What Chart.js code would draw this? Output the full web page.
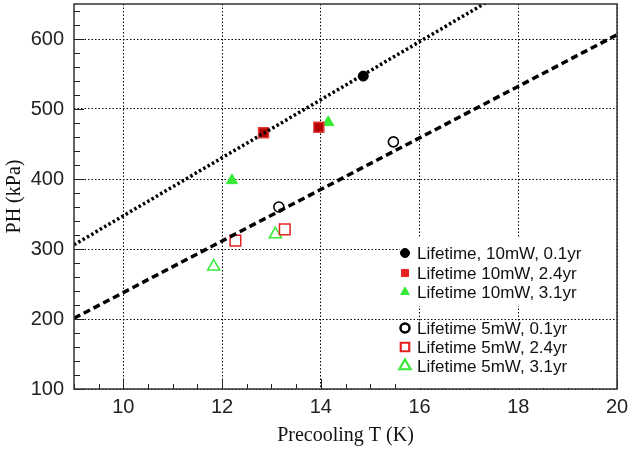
<!DOCTYPE html>
<html>
<head>
<meta charset="utf-8">
<script src="https://cdn.jsdelivr.net/npm/chart.js@4.4.1/dist/chart.umd.min.js"></script>
<style>
  html, body { margin: 0; padding: 0; background: #fff; }
  #wrap { width: 628px; height: 450px; }
</style>
</head>
<body>
<div id="wrap"><canvas id="phChart" width="628" height="450"></canvas></div>
<script>
// values
const t10_01 = [14.86], p10_01 = [547];
const t10_24 = [12.84, 13.96], p10_24 = [466, 474];
const t10_31 = [12.2, 14.15], p10_31 = [398, 481];
const t5_01 = [13.15, 15.47], p5_01 = [360, 453];
const t5_24 = [12.27, 13.27], p5_24 = [312, 328];
const t5_31 = [11.83, 13.08], p5_31 = [275, 321];

// linear fits (10mW dotted, 5mW dashed)
const fitT = [9, 20];
const fit10 = [306, 762];
const fit5 = [201, 606];

const legendTop = ["Lifetime, 10mW, 0.1yr", "Lifetime 10mW, 2.4yr", "Lifetime 10mW, 3.1yr"];
const legendBottom = ["Lifetime 5mW, 0.1yr", "Lifetime 5mW, 2.4yr", "Lifetime 5mW, 3.1yr"];

const pts = (xs, ys) => xs.map((x, i) => ({ x: x, y: ys[i] }));

const GREEN = '#36ea36';
const RED = '#e52222';

// frame + inward ticks, like the original plot
const framePlugin = {
    id: 'frame',
    afterDraw(chart) {
        const { ctx, chartArea: a, scales } = chart;
        ctx.save();
        ctx.strokeStyle = '#222';
        ctx.lineWidth = 1;
        ctx.beginPath();
        const xs = scales.x, ys = scales.y;
        for (let v = xs.min; v <= xs.max + 1e-6; v += 0.5) {
            const px = Math.round(xs.getPixelForValue(v)) + 0.5;
            const len = (Math.abs(v % 2) < 1e-6) ? 10 : 5;
            ctx.moveTo(px, a.bottom);
            ctx.lineTo(px, a.bottom - len);
        }
        for (let v = ys.min; v <= ys.max + 1e-6; v += 20) {
            const py = Math.round(ys.getPixelForValue(v)) + 0.5;
            const len = (Math.abs(v % 100) < 1e-6) ? 10 : 6;
            ctx.moveTo(a.left, py);
            ctx.lineTo(a.left + len, py);
        }
        ctx.stroke();
        ctx.lineWidth = 1.5;
        ctx.strokeStyle = '#333';
        ctx.strokeRect(a.left, a.top, a.right - a.left, a.bottom - a.top);
        ctx.restore();
    }
};

// two grouped legends with white boxes
const legendPlugin = {
    id: 'groupLegend',
    afterDraw(chart) {
        const ctx = chart.ctx;
        ctx.save();
        ctx.fillStyle = '#fff';
        ctx.fillRect(400, 237, 216, 69);
        ctx.fillRect(400, 322, 216, 66);
        ctx.font = '17px "Liberation Sans", Arial, sans-serif';
        ctx.textBaseline = 'middle';
        ctx.fillStyle = '#111';

        const topMarks = [
            { style: 'circle', r: 4.5, fill: '#000', stroke: '#000', w: 1 },
            { style: 'rect', r: 5, fill: RED, stroke: RED, w: 1 },
            { style: 'triangle', r: 5, fill: GREEN, stroke: GREEN, w: 1 }
        ];
        const botMarks = [
            { style: 'circle', r: 4.5, fill: 'rgba(0,0,0,0)', stroke: '#000', w: 2.5 },
            { style: 'rect', r: 6, fill: 'rgba(0,0,0,0)', stroke: RED, w: 2.2 },
            { style: 'triangle', r: 6.5, fill: 'rgba(0,0,0,0)', stroke: GREEN, w: 2.2 }
        ];
        const rowsTop = [253, 273, 292];
        const rowsBot = [328, 347, 366];
        const draw = (labels, marks, rows) => {
            labels.forEach((lab, i) => {
                const m = marks[i];
                ctx.fillStyle = m.fill;
                ctx.strokeStyle = m.stroke;
                ctx.lineWidth = m.w;
                Chart.helpers.drawPoint(ctx, { pointStyle: m.style, radius: m.r, borderWidth: m.w, rotation: 0 }, 405, rows[i]);
                ctx.fillStyle = '#111';
                ctx.fillText(lab, 417, rows[i] + 1);
            });
        };
        draw(legendTop, topMarks, rowsTop);
        draw(legendBottom, botMarks, rowsBot);
        ctx.restore();
    }
};

const tickFont = { family: '"Liberation Sans", Arial, sans-serif', size: 20 };
const titleFont = { family: '"Liberation Serif", "Times New Roman", serif', size: 20 };

new Chart(document.getElementById('phChart'), {
    type: 'scatter',
    data: {
        datasets: [
            { label: 'fit 10mW', data: pts(fitT, fit10), showLine: true, borderColor: '#000', borderWidth: 3.5, borderDash: [2.5, 2.5], pointRadius: 0, fill: false },
            { label: 'fit 5mW', data: pts(fitT, fit5), showLine: true, borderColor: '#000', borderWidth: 3.5, borderDash: [7, 4], pointRadius: 0, fill: false },
            { label: legendTop[0], data: pts(t10_01, p10_01), pointStyle: 'circle', pointRadius: 5, backgroundColor: '#000', borderColor: '#000', borderWidth: 1 },
            { label: legendTop[1], data: pts(t10_24, p10_24), pointStyle: 'rect', pointRadius: 7, backgroundColor: '#b40000', borderColor: '#e03a3a', borderWidth: 1.5 },
            { label: legendTop[2], data: pts(t10_31, p10_31), pointStyle: 'triangle', pointRadius: 6.5, backgroundColor: GREEN, borderColor: GREEN, borderWidth: 1 },
            { label: legendBottom[0], data: pts(t5_01, p5_01), pointStyle: 'circle', pointRadius: 5, backgroundColor: 'rgba(0,0,0,0)', borderColor: '#000', borderWidth: 1.6 },
            { label: legendBottom[1], data: pts(t5_24, p5_24), pointStyle: 'rect', pointRadius: 7.5, backgroundColor: 'rgba(0,0,0,0)', borderColor: RED, borderWidth: 1.5 },
            { label: legendBottom[2], data: pts(t5_31, p5_31), pointStyle: 'triangle', pointRadius: 7, backgroundColor: 'rgba(0,0,0,0)', borderColor: GREEN, borderWidth: 1.5 }
        ]
    },
    options: {
        responsive: false,
        animation: false,
        layout: { autoPadding: false, padding: { top: 4, right: 11, left: 0, bottom: 0 } },
        plugins: { legend: { display: false }, tooltip: { enabled: false } },
        scales: {
            x: {
                type: 'linear', min: 9, max: 20,
                afterFit: s => { s.height = 61; s.paddingLeft = 0; s.paddingRight = 0; },
                ticks: { stepSize: 2, includeBounds: false, color: '#222', font: tickFont, padding: 6, maxRotation: 0 },
                grid: { color: '#000', lineWidth: 1, drawTicks: false },
                border: { display: false, dash: [1.5, 2] },
                title: { display: true, text: 'Precooling T (K)', color: '#111', font: titleFont, padding: { top: 0, bottom: 2 } }
            },
            y: {
                type: 'linear', min: 100, max: 650,
                afterFit: s => { s.width = 74; s.paddingTop = 0; s.paddingBottom = 0; },
                ticks: { stepSize: 100, includeBounds: false, color: '#222', font: tickFont, padding: 10 },
                grid: { color: '#000', lineWidth: 1, drawTicks: false },
                border: { display: false, dash: [1.5, 2] },
                title: { display: true, text: 'PH (kPa)', color: '#111', font: titleFont, padding: { top: 3, bottom: 0 } }
            }
        }
    },
    plugins: [framePlugin, legendPlugin]
});
</script>
</body>
</html>
